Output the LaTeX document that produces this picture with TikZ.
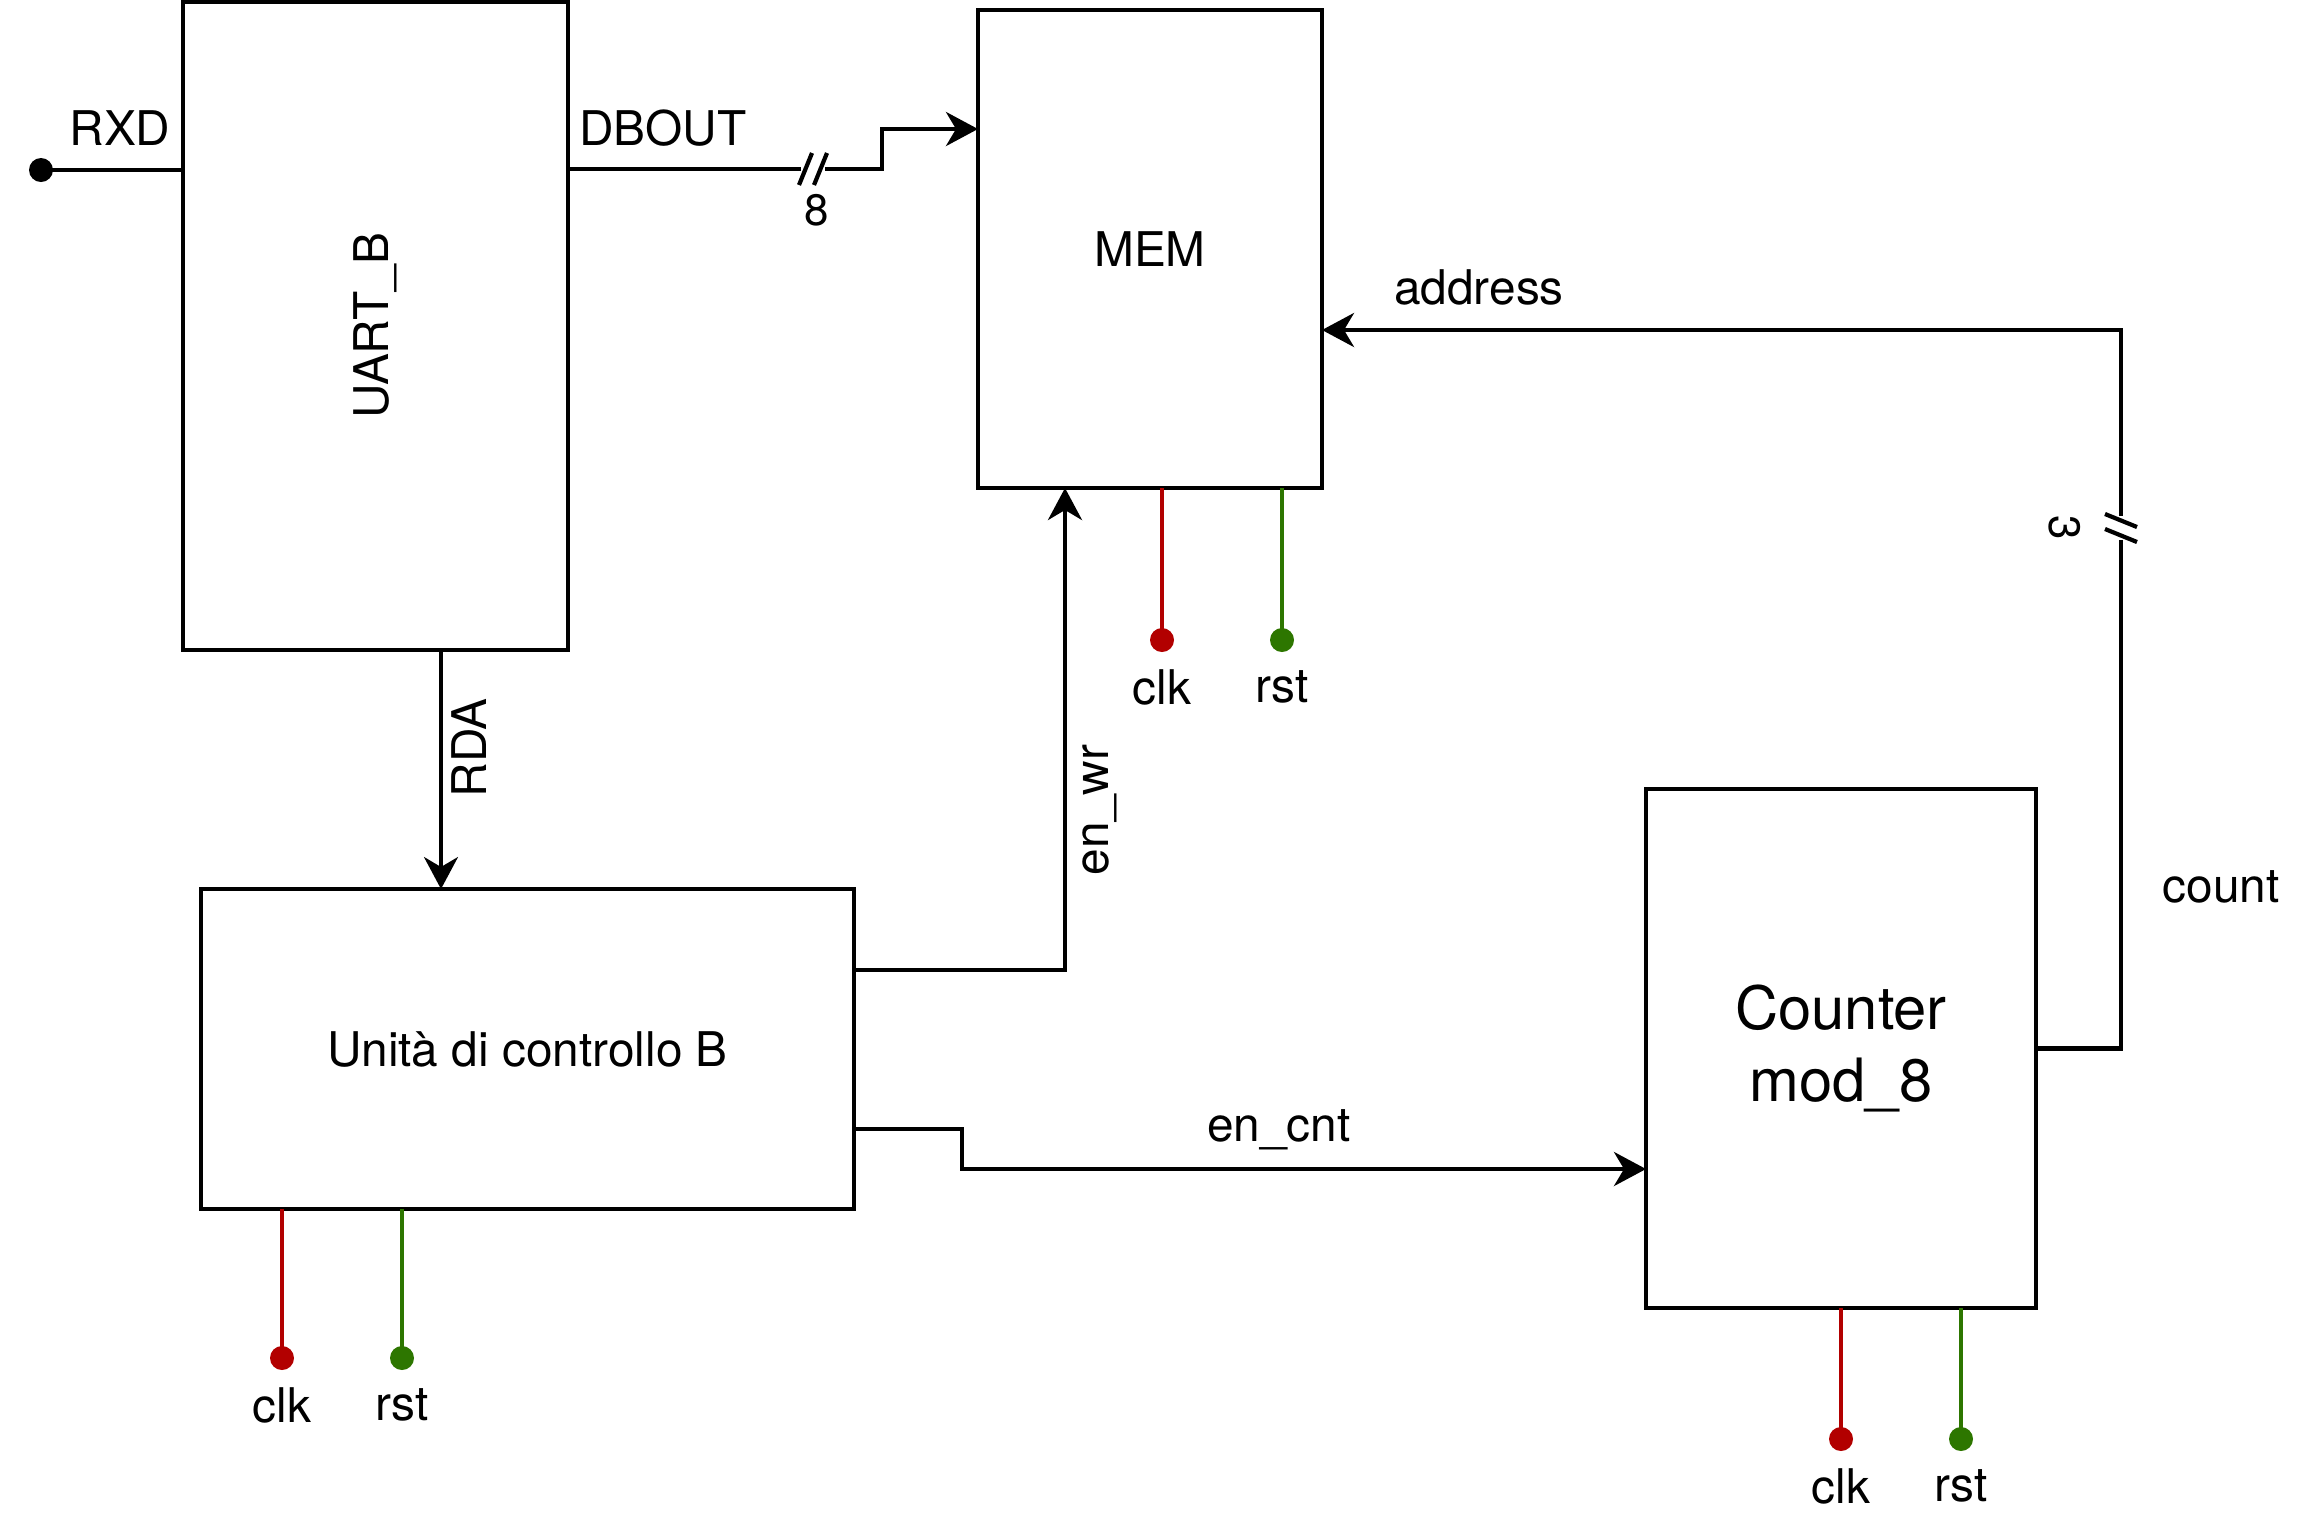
\documentclass[tikz,border=0pt]{standalone}
\usepackage{fontspec}
\setmainfont{TeX Gyre Heros}
\usetikzlibrary{arrows.meta,calc}
\definecolor{clkred}{HTML}{B20000}
\definecolor{rstgreen}{HTML}{2D7600}

\begin{document}
\begin{tikzpicture}[
  font=\fontsize{13.6}{16}\selectfont,
  block/.style={draw, line width=1.3pt, outer sep=0pt, inner sep=0pt, align=center},
  wire/.style={line width=1.2pt},
  arr/.style={wire, -{Stealth[length=3.2mm, width=3.4mm, inset=1mm]}},
  thinarr/.style={line width=0.95pt, -{Stealth[length=3.2mm, width=3.4mm, inset=1mm]}},
  pinwire/.style={line width=0.9pt},
  pindot/.style={circle, fill, inner sep=0pt, minimum size=2.4mm},
  lbl/.style={inner sep=0pt},
  buswidth/.style={inner sep=0pt, font=\fontsize{12.5}{14}\selectfont},
  busmark/.pic={
    \fill[white] (-0.12,-0.06) rectangle (0.12,0.06);
    \draw[wire] (-0.14,-0.16) -- (-0.01,0.16) (0.01,-0.16) -- (0.14,0.16);
  },
]
\useasboundingbox (0,0) rectangle (23,-15.32);

% blocks
\node[block, minimum width=3.85cm, minimum height=6.48cm] (uart) at (3.755,-3.26) {\rotatebox{90}{UART\_B}};
\node[block, minimum width=3.44cm, minimum height=4.78cm] (mem) at (11.50,-2.49) {MEM};
\node[block, minimum width=6.53cm, minimum height=3.20cm] (unita) at (5.275,-10.49) {Unità di controllo B};
\node[block, minimum width=3.90cm, minimum height=5.19cm, font=\fontsize{17}{20.5}\selectfont] (counter) at (18.41,-10.485) {Counter\\mod\_8};

% RXD input
\node[pindot] (rxd) at (0.41,-1.70) {};
\draw[wire] (rxd.center) -- (uart.west |- rxd);
\node[lbl] (rxdlbl) at (1.20,-1.28) {RXD};

% DBOUT bus
\draw[arr] (uart.east |- 0,-1.69) -- (8.82,-1.69) |- (mem.west |- 0,-1.29);
\pic at (8.13,-1.69) {busmark};
\node[lbl] (dboutlbl) at (6.63,-1.28) {DBOUT};
\node[buswidth] (dboutw) at (8.17,-2.10) {8};

% RDA
\draw[thinarr] (4.41,0 |- uart.south) -- (4.41,0 |- unita.north);
\node[lbl, rotate=90] (rdalbl) at (4.69,-7.48) {RDA};

% en_wr
\draw[arr] (unita.east |- 0,-9.70) -| (10.65,0 |- mem.south);
\node[lbl, rotate=90] (enwrlbl) at (11.00,-8.10) {en\_wr};

% en_cnt
\draw[arr] (unita.east |- 0,-11.29) -- (9.62,-11.29) |- (counter.west |- 0,-11.69);
\node[lbl] (encntlbl) at (12.79,-11.30) {en\_cnt};

% count / address bus
\draw[arr] (counter.east) -- (21.21,0 |- counter.east) |- (mem.east |- 0,-3.30);
\pic[rotate=-90] at (21.21,-5.28) {busmark};
\node[buswidth, rotate=-90] (countw) at (20.65,-5.28) {3};
\node[lbl] (addrlbl) at (14.79,-2.87) {address};
\node[lbl] (countlbl) at (22.21,-8.87) {count};

% clock and reset pins
\foreach \blk/\cx/\dy in {mem/11.62/-6.40, unita/2.82/-13.58, counter/18.41/-14.39}{
  \node[pindot, clkred] (\blk-clk) at (\cx,\dy) {};
  \node[pindot, rstgreen] (\blk-rst) at (\cx+1.2,\dy) {};
  \draw[pinwire, clkred] (\blk-clk.center) -- (\blk-clk |- \blk.south);
  \draw[pinwire, rstgreen] (\blk-rst.center) -- (\blk-rst |- \blk.south);
  \node[lbl] (\blk-clklbl) at ($(\blk-clk)+(0,-0.47)$) {clk};
  \node[lbl] (\blk-rstlbl) at ($(\blk-rst)+(0,-0.47)$) {rst};
}
\end{tikzpicture}
\end{document}
